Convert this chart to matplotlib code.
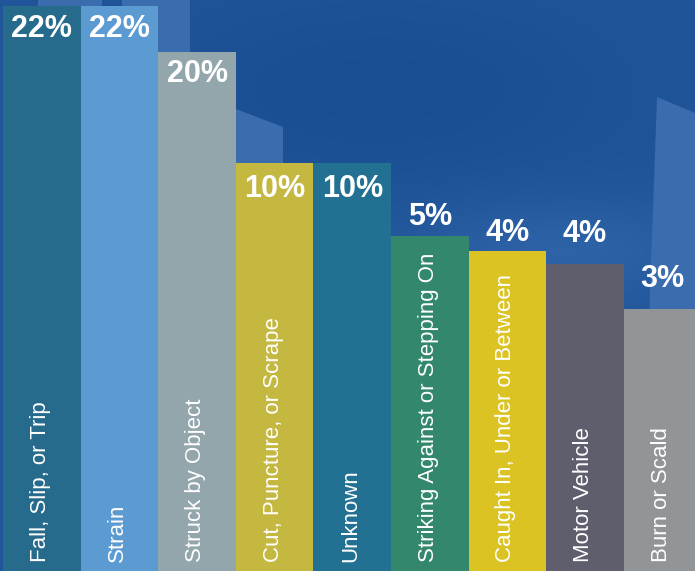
import matplotlib.pyplot as plt
import numpy as np
from matplotlib.patches import Polygon

# injury causes, shown left to right
categories = ['Fall, Slip, or Trip', 'Strain', 'Struck by Object',
              'Cut, Puncture, or Scrape', 'Unknown',
              'Striking Against or Stepping On', 'Caught In, Under or Between',
              'Motor Vehicle', 'Burn or Scald']
pct_labels = ['22%', '22%', '20%', '10%', '10%', '5%', '4%', '4%', '3%']
# bar heights as drawn (the artwork is not to scale), chart height = 571
bar_heights = [565, 565, 519, 408, 408, 335, 320, 307, 262]

colors = ['#266b8b', '#5c9ad2', '#92a6ac', '#c4b841', '#227193',
          '#32876c', '#dac322', '#5f5e6d', '#929598']
# where the percentage sits: negative = inside the bar, positive = above (pixels)
label_gap = [-8, -8, -7, -11, -11, 11, 10, 22, 22]

W, H = 695, 571
fig = plt.figure(figsize=(W / 100, H / 100), dpi=100)

# background: blue with soft shading and a few lighter panels
bg = fig.add_axes([0, 0, 1, 1])
yy, xx = np.mgrid[0:H, 0:W]
base = np.array([0x22, 0x56, 0x9a]) / 255.0
dark = np.exp(-(((xx - 380) / 260.0) ** 2 + ((yy - 90) / 110.0) ** 2))
light = np.exp(-(((xx - 560) / 150.0) ** 2 + ((yy - 250) / 50.0) ** 2))
img = base[None, None, :] - 0.03 * dark[..., None] + 0.05 * light[..., None]
bg.imshow(np.clip(img, 0, 1), extent=[0, W, H, 0], aspect='auto')
panel = '#3a6cae'
for pts in [[(38, 0), (102, 0), (102, 80), (38, 80)],
            [(122, 0), (190, 0), (190, 300), (122, 300)],
            [(160, 80), (283, 127), (283, H), (160, H)],
            [(657, 97), (W, 113), (W, H), (640, H)]]:
    bg.add_patch(Polygon(pts, closed=True, facecolor=panel, edgecolor='none'))
bg.set_xlim(0, W)
bg.set_ylim(H, 0)
bg.axis('off')

ax = fig.add_axes([0, 0, 1, 1])
ax.patch.set_alpha(0)
bar_px = 77.6
left_px = 3.0
x = np.arange(len(categories))
ax.bar(x, bar_heights, width=1.0, color=colors, edgecolor='none')
ax.set_xlim(-0.5 - left_px / bar_px, (W - left_px) / bar_px - 0.5)
ax.set_ylim(0, H)
ax.axis('off')

for i, (name, pct, h) in enumerate(zip(categories, pct_labels, bar_heights)):
    gap = label_gap[i]
    ax.annotate(pct, (x[i], h), xytext=(0, gap), textcoords='offset pixels',
                ha='center', va='top' if gap < 0 else 'baseline',
                color='white', fontsize=22, fontweight='bold',
                family='Liberation Sans')
    ax.annotate(name, (x[i], 0), xytext=(4, 9), textcoords='offset pixels',
                rotation=90, rotation_mode='anchor', ha='left', va='baseline',
                color='white', fontsize=16, family='Liberation Sans')

fig.savefig('out.png', dpi=100)
